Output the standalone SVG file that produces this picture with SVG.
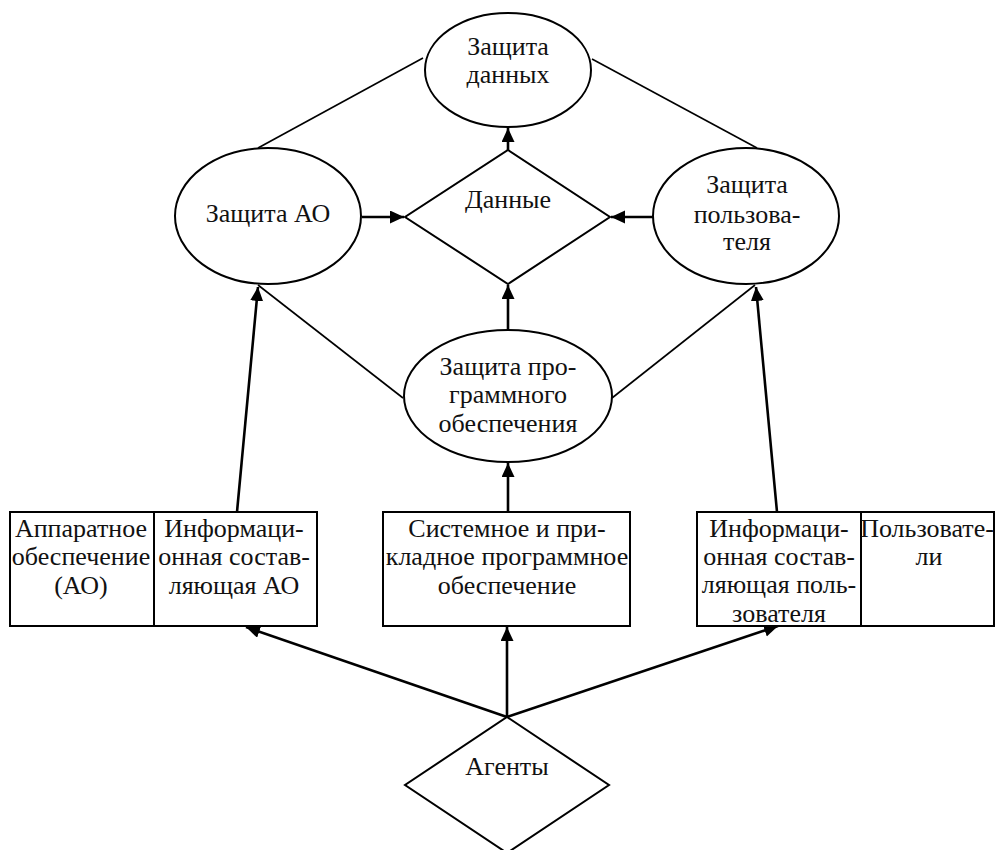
<svg xmlns="http://www.w3.org/2000/svg" width="995" height="850" viewBox="0 0 995 850">
<defs>
<marker id="ah" markerUnits="userSpaceOnUse" markerWidth="16" markerHeight="14" refX="14" refY="6.5" orient="auto">
<path d="M0,0 L14,6.5 L0,13 z" fill="#000"/>
</marker>
<style>
.shape{fill:#fff;stroke:#000;stroke-width:2}
.ln{stroke:#000;stroke-width:1.6;fill:none}
.ar{stroke:#000;stroke-width:2.6;fill:none;marker-end:url(#ah)}
text{font-family:'Times New Roman',Tinos,'Liberation Serif','Noto Serif','DejaVu Serif',serif;font-size:26px;fill:#111;text-anchor:middle}
</style>
</defs>
<rect width="995" height="850" fill="#fff"/>
<g id="connectors">
<line class="ln" x1="423" y1="58" x2="258" y2="148"/>
<line class="ln" x1="592" y1="59" x2="757" y2="148"/>
<line class="ln" x1="258" y1="285" x2="403" y2="398"/>
<line class="ln" x1="612" y1="398" x2="755" y2="285"/>
<line class="ar" x1="508" y1="150" x2="508" y2="128"/>
<line class="ar" x1="362" y1="217" x2="404" y2="217"/>
<line class="ar" x1="653" y1="217" x2="611" y2="217"/>
<line class="ar" x1="508" y1="330" x2="508" y2="285"/>
<line class="ar" x1="508" y1="512" x2="508" y2="463"/>
<line class="ar" x1="237" y1="512" x2="258" y2="287"/>
<line class="ar" x1="777" y1="512" x2="756" y2="287"/>
<line class="ar" x1="507" y1="717" x2="246" y2="627"/>
<line class="ar" x1="507" y1="717" x2="507" y2="627"/>
<line class="ar" x1="507" y1="717" x2="778" y2="626"/>
</g>
<g id="zashchita-dannykh">
<ellipse class="shape" cx="508" cy="70" rx="83" ry="57"/>
<text x="508" y="55">Защита</text>
<text x="508" y="83">данных</text>
</g>
<g id="dannye">
<polygon class="shape" points="508,150 610,217 508,284 405,217"/>
<text x="508" y="208">Данные</text>
</g>
<g id="zashchita-ao">
<ellipse class="shape" cx="268" cy="216" rx="93" ry="68"/>
<text x="268" y="222">Защита АО</text>
</g>
<g id="zashchita-polzovatelya">
<ellipse class="shape" cx="746" cy="216" rx="93" ry="68"/>
<text x="747" y="193">Защита</text>
<text x="747" y="223">пользова-</text>
<text x="747" y="250">теля</text>
</g>
<g id="zashchita-po">
<ellipse class="shape" cx="508" cy="396" rx="104" ry="66"/>
<text x="508" y="375">Защита про-</text>
<text x="508" y="403">граммного</text>
<text x="508" y="432">обеспечения</text>
</g>
<g id="apparatnoe">
<rect class="shape" x="10" y="512" width="144" height="114"/>
<text x="81" y="537">Аппаратное</text>
<text x="81" y="565">обеспечение</text>
<text x="81" y="594">(АО)</text>
</g>
<g id="info-ao">
<rect class="shape" x="154" y="512" width="163" height="114"/>
<text x="234" y="537">Информаци-</text>
<text x="234" y="565">онная состав-</text>
<text x="234" y="594">ляющая АО</text>
</g>
<g id="sistemnoe">
<rect class="shape" x="383" y="512" width="247" height="114"/>
<text x="507" y="537">Системное и при-</text>
<text x="507" y="565">кладное программное</text>
<text x="507" y="594">обеспечение</text>
</g>
<g id="info-polz">
<rect class="shape" x="697" y="512" width="164" height="114"/>
<text x="779" y="537">Информаци-</text>
<text x="779" y="565">онная состав-</text>
<text x="779" y="593">ляющая поль-</text>
<text x="779" y="622">зователя</text>
</g>
<g id="polzovateli">
<rect class="shape" x="861" y="512" width="133" height="114"/>
<text x="927" y="537">Пользовате-</text>
<text x="929" y="565">ли</text>
</g>
<g id="agenty">
<polygon class="shape" points="507,717 609,785 507,853 405,785"/>
<text x="507" y="775">Агенты</text>
</g>
</svg>
